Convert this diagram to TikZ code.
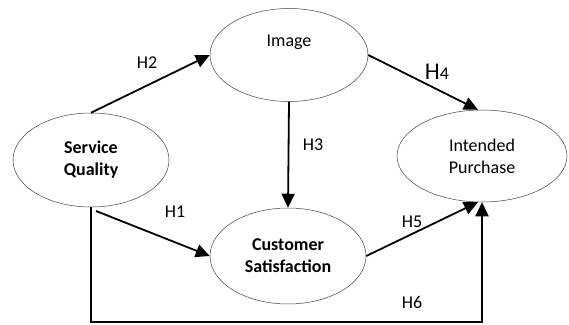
\documentclass[tikz,border=0pt]{standalone}
\usepackage{fontspec}
\setmainfont{Carlito}
\usetikzlibrary{shapes.geometric,arrows.meta}
\begin{document}
\begin{tikzpicture}[x=1pt,y=-1pt,
  construct/.style={ellipse,draw=black!75,line width=0.5pt,inner sep=0pt,align=center,font=\fontsize{18}{22}\selectfont},
  relation/.style={line width=1.8pt,-{Triangle[length=14pt,width=13pt]}},
  hyp/.style={font=\fontsize{18}{22}\selectfont,inner sep=0pt}]
\useasboundingbox (0,0) rectangle (569,324);
% constructs
\node[construct,minimum width=156pt,minimum height=94pt] (sq) at (91,160) {\textbf{Service}\\\textbf{Quality}};
\node[construct,minimum width=158pt,minimum height=93pt] (img) at (289,55) {};
\node[hyp] (imgtxt) at (289,42) {Image};
\node[construct,minimum width=170pt,minimum height=92pt] (ip) at (482,156) {Intended\\Purchase};
\node[construct,minimum width=156pt,minimum height=96pt] (cs) at (288,256) {\textbf{Customer}\\\textbf{Satisfaction}};
% start point of H1
\coordinate (h1s) at (96,211);
% relations
\draw[relation] (sq.north) -- (img.west);
\draw[relation] (img.east) -- (ip.95);
\draw[relation] (img.south) -- (cs.north);
\draw[relation] (h1s) -- (cs.west);
\draw[relation] (cs.east) -- (ip.265);
\draw[relation,rounded corners=0pt] (sq.south) -- ++(0,115) -| (ip.south);
% labels
\node[hyp] (lh2) at (147,63) {H2};
\node[hyp] (lh4) at (437,72) {{\fontsize{24}{24}\selectfont H}4};
\node[hyp] (lh3) at (313,145) {H3};
\node[hyp] (lh1) at (175,212) {H1};
\node[hyp] (lh5) at (412,222) {H5};
\node[hyp] (lh6) at (412,302) {H6};
\end{tikzpicture}
\end{document}
